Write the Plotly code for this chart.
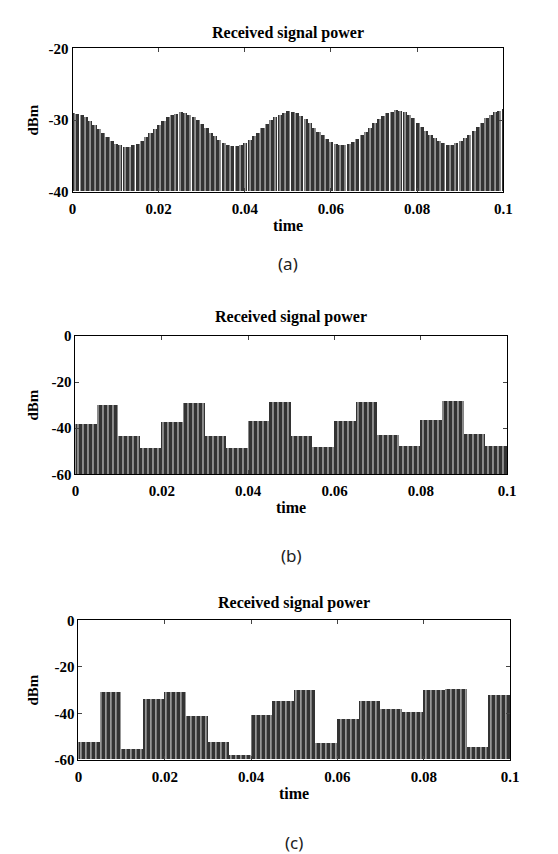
import numpy as np
import plotly.graph_objects as go

power_a = [
    -29.1, -29.2, -29.4, -29.7, -30.2, -30.7, -31.3, -31.9, -32.4, -33.0, -33.4, -33.6, -33.8,
    -33.8, -33.6, -33.4, -33.0, -32.4, -31.9, -31.3, -30.7, -30.2, -29.7, -29.4, -29.2,
    -29.0, -29.1, -29.3, -29.6, -30.1, -30.6, -31.2, -31.8, -32.3, -32.9, -33.3, -33.5, -33.7,
    -33.7, -33.5, -33.3, -32.9, -32.3, -31.8, -31.2, -30.6, -30.1, -29.6, -29.3, -29.1,
    -28.8, -28.9, -29.1, -29.5, -29.9, -30.5, -31.1, -31.7, -32.2, -32.7, -33.1, -33.4, -33.6,
    -33.6, -33.4, -33.1, -32.7, -32.2, -31.7, -31.1, -30.5, -29.9, -29.5, -29.1, -28.9,
    -28.7, -28.8, -29.0, -29.4, -29.8, -30.4, -31.0, -31.6, -32.1, -32.6, -33.0, -33.3, -33.5,
    -33.5, -33.3, -33.0, -32.6, -32.1, -31.6, -31.0, -30.4, -29.8, -29.4, -29.0, -28.8,
    -28.5,
]
time_a = np.arange(len(power_a)) * 0.001

# (b) and (c): 5 ms steps
power_b = [-38, -30, -43.5, -48.5, -37.5, -29, -43.5, -48.5, -37, -28.5,
           -43.5, -48, -37, -28.5, -43, -47.5, -36.5, -28, -42.5, -47.5]
power_c = [-52.5, -31, -55.5, -34, -31, -41.5, -52.5, -58, -41, -35,
           -30, -53, -42.5, -35, -38.5, -39.5, -30, -29.5, -54.5, -32.5]
step_t = np.arange(20) * 0.005

x_ticks = [0, 0.02, 0.04, 0.06, 0.08, 0.1]
x_ticktext = ["0", "0.02", "0.04", "0.06", "0.08", "0.1"]

W, H = 558, 854
serif = "Liberation Serif"

# pixel boxes of the three panels: left, right, top, bottom
boxes = [(62, 503, 33, 179), (65, 507, 326, 467), (68, 510, 616, 758)]
title_y = [17, 307, 598]
yranges = [[-40, -20], [-60, 0], [-60, 0]]
yticks = [[-40, -30, -20], [-60, -40, -20, 0], [-60, -40, -20, 0]]
labels = [("(a)", 252), ("(b)", 550), ("(c)", 842)]

fig = go.Figure()

bar_color = "#333333"
bar_pattern = dict(shape="|", fgcolor="#f4f4f4", bgcolor=bar_color,
                   size=5, solidity=0.18, fillmode="replace")

fig.add_trace(go.Bar(x=time_a, y=[v + 40 for v in power_a], base=-40, width=0.00095,
                     marker=dict(color=bar_color, line_width=0, pattern=bar_pattern),
                     xaxis="x", yaxis="y", showlegend=False))
fig.add_trace(go.Bar(x=step_t, y=[v + 60 for v in power_b], base=-60, width=0.005, offset=0,
                     marker=dict(color=bar_color, line_width=0, pattern=bar_pattern),
                     xaxis="x2", yaxis="y2", showlegend=False))
fig.add_trace(go.Bar(x=step_t, y=[v + 60 for v in power_c], base=-60, width=0.005, offset=0,
                     marker=dict(color=bar_color, line_width=0, pattern=bar_pattern),
                     xaxis="x3", yaxis="y3", showlegend=False))

layout = dict(width=W, height=H, margin=dict(l=0, r=0, t=0, b=0),
              plot_bgcolor="white", paper_bgcolor="white", bargap=0)
annotations = []
tick_font = dict(family=serif, size=15, color="black", weight="bold")


def note(text, px, py, size, family=serif, color="black", angle=0):
    return dict(text=text, x=px / W, y=1 - py / H, xref="paper", yref="paper",
                xanchor="center", yanchor="middle", showarrow=False, textangle=angle,
                font=dict(family=family, size=size, color=color))


for i, (l, r, t, b) in enumerate(boxes):
    sx = "" if i == 0 else str(i + 1)
    layout["xaxis" + sx] = dict(
        domain=[l / W, r / W], anchor="y" + sx, range=[0, 0.1],
        tickvals=x_ticks, ticktext=x_ticktext, ticks="inside", ticklen=4,
        ticklabelstandoff=3,
        showline=True, linecolor="black", linewidth=1, mirror="ticks",
        showgrid=False, zeroline=False, tickfont=tick_font)
    layout["yaxis" + sx] = dict(
        domain=[1 - b / H, 1 - t / H], anchor="x" + sx, range=yranges[i],
        tickvals=yticks[i], ticktext=[str(v) for v in yticks[i]],
        ticks="inside", ticklen=4,
        showline=True, linecolor="black", linewidth=1, mirror="ticks",
        showgrid=False, zeroline=False, tickfont=tick_font)
    cx = (l + r) / 2
    annotations.append(note("<b>Received signal power</b>", cx, title_y[i], 16))
    annotations.append(note("<b>time</b>", cx, b + 34, 16))
    annotations.append(note("<b>dBm</b>", 22, (t + b) / 2, 15, angle=-90))

for (text, py), (l, r, t, b) in zip(labels, boxes):
    annotations.append(note(text, (l + r) / 2, py, 17, family="Noto Sans", color="#222"))

layout["annotations"] = annotations

fig.update_layout(**layout)
fig.write_html("out.html")
